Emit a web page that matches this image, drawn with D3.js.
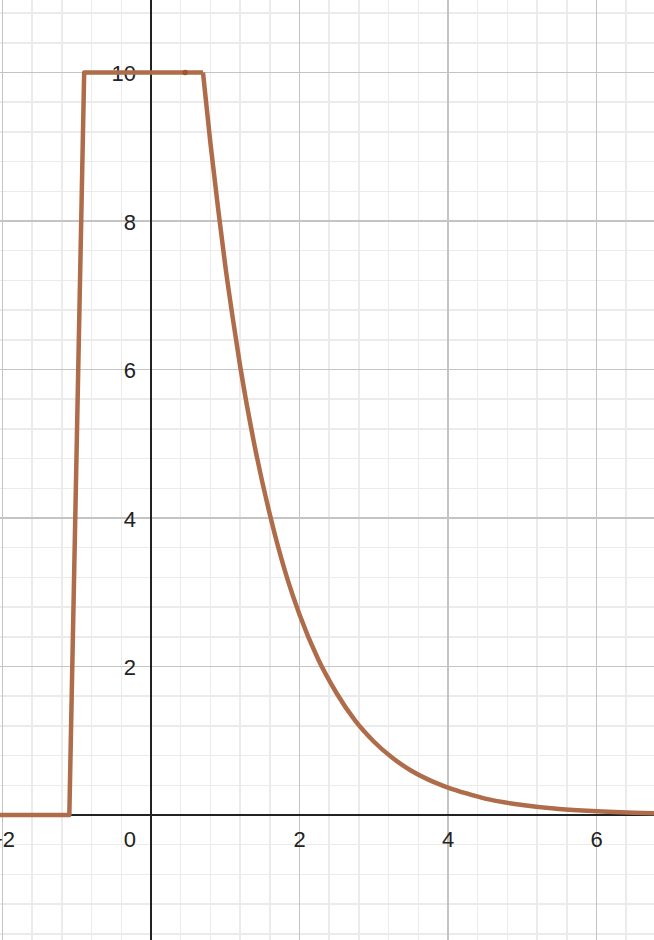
<!DOCTYPE html>
<meta charset="utf-8">
<style>
body { margin: 0; background: #fff; }
.grid line { shape-rendering: crispEdges; }
.minor line { stroke: #ebebeb; stroke-width: 1.5; }
.major line { stroke: #c4c4c4; stroke-width: 1.5; }
.axis line { stroke: #222; stroke-width: 2; shape-rendering: crispEdges; }
.label text { fill: #222; font: 22px "Liberation Sans", Arial, sans-serif; }
.curve { fill: none; stroke: #ae6c4a; stroke-width: 4.5; stroke-linejoin: round; }
</style>
<svg class="chart"></svg>
<script src="https://cdn.jsdelivr.net/npm/d3@7"></script>
<script>

let width = 654,
    height = 940;

// values
let xTicks = [-2, 0, 2, 4, 6];
let yTicks = [2, 4, 6, 8, 10];

let stepX = [-2.1, -1.1, -0.9, 0.7];
let stepY = [0, 0, 10, 10];

let decayX = [0.7, 0.8, 0.9, 1.0, 1.1, 1.2, 1.4, 1.6, 1.8, 2.0, 2.25, 2.5, 2.75, 3.0, 3.25, 3.5, 3.75, 4.0, 4.25, 4.5, 5.0, 5.5, 6.0, 6.5, 6.9];
let decayY = [10, 9.05, 8.2, 7.4, 6.7, 6.05, 4.95, 4.05, 3.3, 2.7, 2.1, 1.64, 1.27, 0.99, 0.77, 0.6, 0.47, 0.37, 0.29, 0.22, 0.135, 0.08, 0.05, 0.03, 0.02];

let markX = [0.46];
let markY = [10];

let unit = 74.25;
let x = d3.scaleLinear()
    .domain([-151 / unit, (width - 151) / unit])
    .range([0, width]);
let y = d3.scaleLinear()
    .domain([-(height - 815) / unit, 815 / unit])
    .range([height, 0]);

let chart = d3.select(".chart")
    .attr("width", width)
    .attr("height", height);

// minor grid every 0.4, major every 2
let minorX = d3.range(Math.ceil(x.domain()[0] / 0.4), Math.floor(x.domain()[1] / 0.4) + 1).map(i => +(i * 0.4).toFixed(2));
let minorY = d3.range(Math.ceil(y.domain()[0] / 0.4), Math.floor(y.domain()[1] / 0.4) + 1).map(i => +(i * 0.4).toFixed(2));
let majorX = x.ticks(5).filter(d => d % 2 === 0);
let majorY = d3.range(-2, 12, 2);

let minor = chart.append("g").attr("class", "grid minor");
minor.selectAll(".vx").data(minorX).enter().append("line")
    .attr("x1", d => x(d)).attr("x2", d => x(d))
    .attr("y1", 0).attr("y2", height);
minor.selectAll(".hy").data(minorY).enter().append("line")
    .attr("y1", d => y(d)).attr("y2", d => y(d))
    .attr("x1", 0).attr("x2", width);

let major = chart.append("g").attr("class", "grid major");
major.selectAll(".vx").data(majorX).enter().append("line")
    .attr("x1", d => x(d)).attr("x2", d => x(d))
    .attr("y1", 0).attr("y2", height);
major.selectAll(".hy").data(majorY).enter().append("line")
    .attr("y1", d => y(d)).attr("y2", d => y(d))
    .attr("x1", 0).attr("x2", width);

let axis = chart.append("g").attr("class", "axis");
axis.append("line")
    .attr("x1", 0).attr("x2", width)
    .attr("y1", y(0)).attr("y2", y(0));
axis.append("line")
    .attr("x1", x(0)).attr("x2", x(0))
    .attr("y1", 0).attr("y2", height);

let fmt = d3.format("d");
let labels = chart.append("g").attr("class", "label");
labels.selectAll(".xl").data(xTicks).enter().append("text")
    .attr("x", d => d === 0 ? x(0) - 15 : x(d))
    .attr("y", y(0) + 32)
    .attr("text-anchor", d => d === 0 ? "end" : "middle")
    .text(d => fmt(d));
labels.selectAll(".yl").data(yTicks).enter().append("text")
    .attr("x", x(0) - 15)
    .attr("y", d => y(d) + 1)
    .attr("dy", ".35em")
    .attr("text-anchor", "end")
    .text(d => fmt(d));

let step = d3.zip(stepX, stepY);
let decay = d3.zip(decayX, decayY);

chart.append("path")
    .datum(step)
    .attr("class", "curve")
    .attr("d", d3.line().x(d => x(d[0])).y(d => y(d[1])));

chart.append("path")
    .datum(decay)
    .attr("class", "curve")
    .attr("d", d3.line().curve(d3.curveMonotoneX).x(d => x(d[0])).y(d => y(d[1])));

chart.selectAll(".mark")
    .data(d3.zip(markX, markY))
  .enter().append("circle")
    .attr("cx", d => x(d[0]))
    .attr("cy", d => y(d[1]))
    .attr("r", 2.8)
    .attr("fill", "#a3532f");

</script>
